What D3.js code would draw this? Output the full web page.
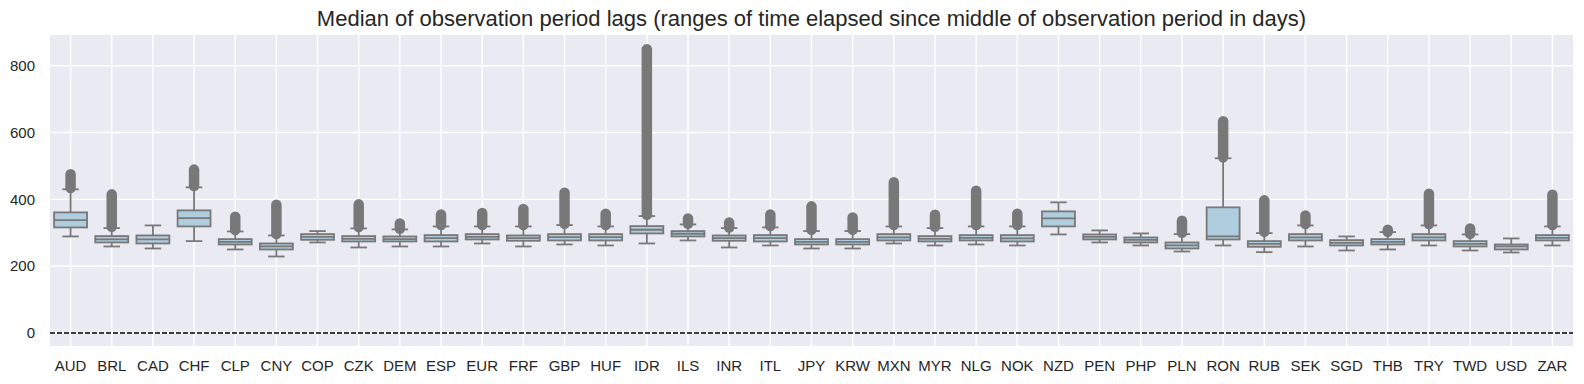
<!DOCTYPE html>
<html>
<head>
<meta charset="utf-8">
<script src="https://cdn.jsdelivr.net/npm/d3@7"></script>
<style>
  body { margin: 0; background: #fff; }
  text { font-family: Arial, "Liberation Sans", sans-serif; fill: #262626; }
</style>
</head>
<body>
<svg id="chart"></svg>
<script>
let categories = ["AUD", "BRL", "CAD", "CHF", "CLP", "CNY", "COP", "CZK", "DEM", "ESP", "EUR", "FRF", "GBP", "HUF", "IDR", "ILS", "INR", "ITL", "JPY", "KRW", "MXN", "MYR", "NLG", "NOK", "NZD", "PEN", "PHP", "PLN", "RON", "RUB", "SEK", "SGD", "THB", "TRY", "TWD", "USD", "ZAR"];
let whiskerLo = [289, 259, 253, 275, 250, 229, 271, 256, 259, 259, 268, 259, 265, 262, 268, 277, 256, 262, 253, 253, 268, 262, 265, 262, 295, 271, 262, 244, 262, 242, 259, 247, 250, 262, 247, 241, 262];
let q1 = [316, 271, 268, 319, 265, 250, 279, 274, 274, 274, 280, 276, 277, 277, 298, 289, 276, 274, 265, 265, 277, 274, 277, 274, 319, 280, 271, 253, 280, 258, 277, 262, 265, 277, 259, 250, 277];
let medians = [338, 280, 280, 344, 273, 259, 288, 282, 281, 284, 288, 284, 287, 287, 309, 297, 284, 284, 273, 273, 286, 282, 285, 283, 343, 288, 279, 262, 289, 267, 286, 270, 273, 286, 267, 259, 285];
let q3 = [361, 290, 292, 367, 281, 268, 296, 290, 289, 293, 296, 292, 296, 296, 320, 305, 292, 293, 281, 281, 296, 290, 293, 293, 364, 295, 286, 271, 376, 275, 296, 278, 281, 296, 275, 265, 293];
let whiskerHi = [430, 314, 322, 436, 304, 292, 305, 313, 310, 319, 319, 319, 323, 319, 350, 325, 314, 316, 305, 305, 319, 314, 319, 319, 391, 307, 298, 296, 523, 299, 322, 289, 302, 322, 295, 283, 319];
let outlierLo = [434, 318, null, 440, 308, 296, null, 317, 312, 323, 323, 323, 327, 323, 354, 327, 316, 320, 309, 309, 323, 318, 323, 323, null, null, null, 300, 526, 303, 326, null, 303, 326, 297, null, 323];
let outlierHi = [475, 415, null, 489, 348, 384, null, 385, 328, 355, 359, 371, 420, 357, 849, 343, 331, 355, 379, 346, 451, 354, 426, 357, null, null, null, 336, 634, 397, 352, null, 309, 417, 313, null, 414];
let yTicks = [0, 200, 400, 600, 800];
let title = "Median of observation period lags (ranges of time elapsed since middle of observation period in days)";

let data = categories.map((c, i) => ({
  name: c,
  lo: whiskerLo[i],
  q1: q1[i],
  med: medians[i],
  q3: q3[i],
  hi: whiskerHi[i],
  outLo: outlierLo[i],
  outHi: outlierHi[i],
}));

let config = getConfig();
let scales = getScales(config);
drawBackground(scales, config);
drawBoxes(scales, config);
drawLabels(scales, config);

function getConfig() {
  let width = 1584;
  let height = 384;
  let margin = { top: 35, bottom: 38, left: 50, right: 11 };
  let bodyWidth = width - margin.left - margin.right;
  let bodyHeight = height - margin.top - margin.bottom;
  let container = d3.select("#chart").attr("width", width).attr("height", height);
  return { width, height, margin, bodyWidth, bodyHeight, container };
}

function getScales({ bodyWidth, bodyHeight }) {
  let xScale = d3.scaleBand().domain(categories).range([0, bodyWidth]).paddingInner(0).paddingOuter(0);
  let yScale = d3.scaleLinear().domain([-38.9, 891.9]).range([bodyHeight, 0]);
  return { xScale, yScale };
}

function drawBackground({ xScale, yScale }, { margin, bodyWidth, bodyHeight, container }) {
  let body = container.append("g").attr("transform", `translate(${margin.left},${margin.top})`);
  body.append("rect").attr("width", bodyWidth).attr("height", bodyHeight).attr("fill", "#eaeaf2");

  body.selectAll(".hgrid").data(yTicks).enter().append("line")
    .attr("x1", 0).attr("x2", bodyWidth)
    .attr("y1", (d) => yScale(d)).attr("y2", (d) => yScale(d))
    .attr("stroke", "#fff").attr("stroke-width", 1.4);

  body.selectAll(".vgrid").data(categories).enter().append("line")
    .attr("x1", (d) => xScale(d) + xScale.bandwidth() / 2)
    .attr("x2", (d) => xScale(d) + xScale.bandwidth() / 2)
    .attr("y1", 0).attr("y2", bodyHeight)
    .attr("stroke", "#fff").attr("stroke-width", 1.4);

  body.append("line")
    .attr("x1", 0).attr("x2", bodyWidth)
    .attr("y1", yScale(0)).attr("y2", yScale(0))
    .attr("stroke", "#000").attr("stroke-width", 1.4)
    .attr("stroke-dasharray", "5,2");
}

function drawBoxes({ xScale, yScale }, { margin, container }) {
  let lineColor = "#787878";
  let bw = xScale.bandwidth() * 0.8;
  let body = container.append("g").attr("transform", `translate(${margin.left},${margin.top})`);

  let groups = body.selectAll(".box").data(data).enter().append("g")
    .attr("transform", (d) => `translate(${xScale(d.name) + xScale.bandwidth() / 2},0)`);

  // whiskers
  groups.append("line")
    .attr("y1", (d) => yScale(d.q3)).attr("y2", (d) => yScale(d.hi))
    .attr("stroke", lineColor).attr("stroke-width", 1.8);
  groups.append("line")
    .attr("y1", (d) => yScale(d.q1)).attr("y2", (d) => yScale(d.lo))
    .attr("stroke", lineColor).attr("stroke-width", 1.8);

  // caps
  groups.append("line")
    .attr("x1", -bw / 4).attr("x2", bw / 4)
    .attr("y1", (d) => yScale(d.hi)).attr("y2", (d) => yScale(d.hi))
    .attr("stroke", lineColor).attr("stroke-width", 1.8);
  groups.append("line")
    .attr("x1", -bw / 4).attr("x2", bw / 4)
    .attr("y1", (d) => yScale(d.lo)).attr("y2", (d) => yScale(d.lo))
    .attr("stroke", lineColor).attr("stroke-width", 1.8);

  // outliers: dense runs of markers
  groups.filter((d) => d.outHi != null).append("line")
    .attr("y1", (d) => yScale(d.outLo)).attr("y2", (d) => yScale(d.outHi))
    .attr("stroke", lineColor).attr("stroke-width", 10.5)
    .attr("stroke-linecap", "round");

  // boxes
  groups.append("rect")
    .attr("x", -bw / 2).attr("width", bw)
    .attr("y", (d) => yScale(d.q3))
    .attr("height", (d) => yScale(d.q1) - yScale(d.q3))
    .attr("fill", "#aecdde").attr("stroke", lineColor).attr("stroke-width", 1.8);

  groups.append("line")
    .attr("x1", -bw / 2).attr("x2", bw / 2)
    .attr("y1", (d) => yScale(d.med)).attr("y2", (d) => yScale(d.med))
    .attr("stroke", lineColor).attr("stroke-width", 1.8);
}

function drawLabels({ xScale, yScale }, { margin, bodyWidth, bodyHeight, container }) {
  container.append("g").selectAll("text").data(yTicks).enter().append("text")
    .attr("x", margin.left - 15)
    .attr("y", (d) => margin.top + yScale(d))
    .attr("dy", "0.35em")
    .attr("text-anchor", "end")
    .style("font-size", "15px")
    .text((d) => d);

  container.append("g").selectAll("text").data(categories).enter().append("text")
    .attr("x", (d) => margin.left + xScale(d) + xScale.bandwidth() / 2)
    .attr("y", margin.top + bodyHeight + 25)
    .attr("text-anchor", "middle")
    .style("font-size", "15px")
    .text((d) => d);

  container.append("text")
    .attr("x", margin.left + bodyWidth / 2)
    .attr("y", 26)
    .attr("text-anchor", "middle")
    .style("font-size", "22px")
    .text(title);
}
</script>
</body>
</html>
